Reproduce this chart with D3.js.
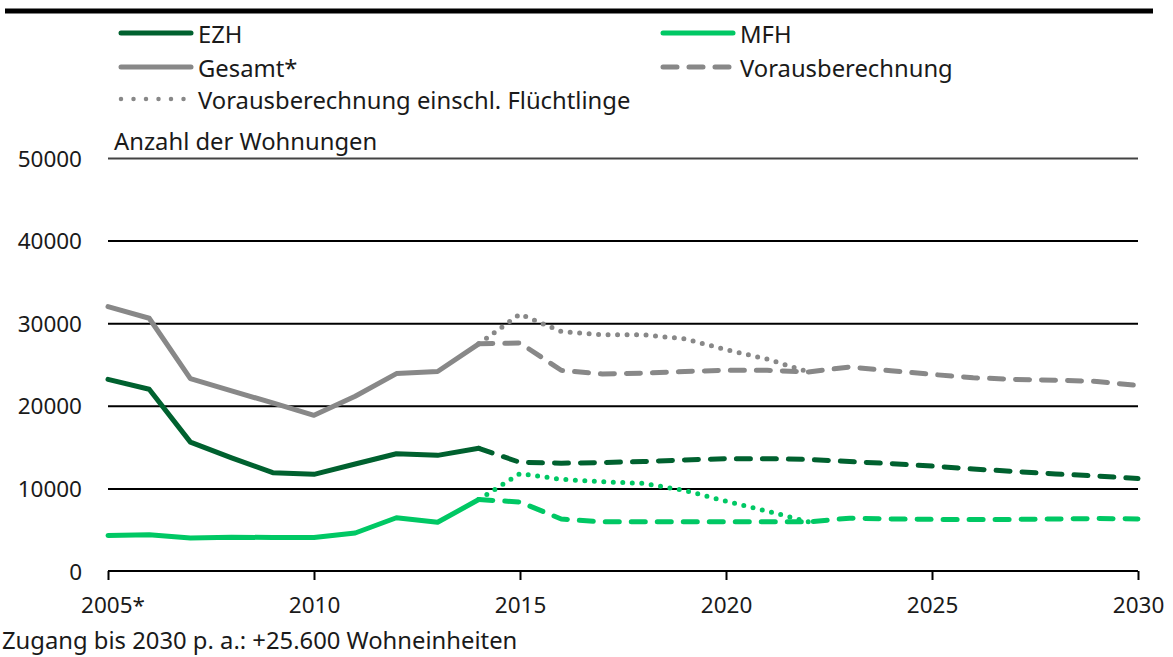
<!DOCTYPE html>
<html>
<head>
<meta charset="utf-8">
<title>Wohnungsbedarf</title>
<script src="https://cdn.jsdelivr.net/npm/d3@7"></script>
<style>
  body { margin: 0; background: #fff; }
  text { font-family: 'Noto Sans', sans-serif; font-size: 23.8px; fill: #1a1a1a; }
</style>
</head>
<body>
<svg id="svg" width="1173" height="657"></svg>
<script>
// observed years
var years = [2005, 2006, 2007, 2008, 2009, 2010, 2011, 2012, 2013, 2014];
var ezh    = [23200, 22000, 15600, 13700, 11900, 11700, 12950, 14200, 14000, 14850];
var mfh    = [4300, 4400, 4000, 4100, 4050, 4050, 4600, 6450, 5900, 8650];
var gesamt = [32000, 30600, 23300, 21800, 20350, 18850, 21150, 23900, 24150, 27500];

// projection (Vorausberechnung)
var projYears = [2014, 2015, 2016, 2017, 2018, 2019, 2020, 2021, 2022, 2023, 2024, 2025, 2026, 2027, 2028, 2029, 2030];
var ezhProj    = [14850, 13150, 13050, 13130, 13250, 13450, 13600, 13600, 13500, 13250, 13000, 12700, 12350, 12050, 11750, 11500, 11200];
var mfhProj    = [8650, 8350, 6300, 5950, 5950, 5950, 5950, 5950, 5950, 6400, 6300, 6250, 6250, 6250, 6300, 6350, 6300];
var gesamtProj = [27500, 27600, 24300, 23850, 23950, 24150, 24300, 24300, 24100, 24700, 24250, 23800, 23400, 23200, 23100, 22950, 22450];

// projection incl. refugees
var fluYears = [2014, 2015, 2016, 2017, 2018, 2019, 2020, 2021, 2022];
var mfhFlu    = [8650, 11800, 11100, 10800, 10600, 9750, 8450, 7250, 5950];
var gesamtFlu = [27500, 31100, 29000, 28600, 28600, 28100, 26800, 25650, 24100];

var yTicks = [0, 10000, 20000, 30000, 40000, 50000];
var xTicks = [2005, 2010, 2015, 2020, 2025, 2030];

var dark = '#00612f', light = '#00c864', grey = '#888888';

var svg = d3.select('#svg');
var x = d3.scaleLinear().domain([2005, 2030]).range([108, 1138]);
var y = d3.scaleLinear().domain([0, 50000]).range([571, 158]);

// top rule
svg.append('line').attr('x1', 5).attr('x2', 1153).attr('y1', 11).attr('y2', 11)
    .attr('stroke', '#000').attr('stroke-width', 5);

// grid
var grid = svg.append('g')
    .call(d3.axisLeft(y).tickValues(yTicks).tickSize(0).tickFormat(d3.format('d')));
grid.select('.domain').remove();
grid.selectAll('.tick text').attr('x', 82).attr('dy', '0.36em').style('font-size', '22.5px')
    .attr('font-family', null).attr('fill', '#1a1a1a');
grid.selectAll('.tick').filter(function(d){ return d > 0; }).append('line')
    .attr('x1', 108).attr('x2', 1138)
    .attr('stroke', function(d){ return d === 50000 ? '#444' : '#000'; })
    .attr('stroke-width', 2);

// x axis
var xa = svg.append('g').attr('transform', 'translate(0,571)')
    .call(d3.axisBottom(x).tickValues(xTicks).tickSize(9).tickPadding(17)
        .tickFormat(function(d){ return d === 2005 ? '2005*' : d; }));
xa.select('.domain').attr('stroke', '#000').attr('stroke-width', 2).attr('d', 'M108,0H1138');
xa.selectAll('.tick line').attr('stroke', '#000').attr('stroke-width', 2);
xa.selectAll('.tick text').style('font-size', '22.5px').attr('font-family', null).attr('fill', '#1a1a1a')
    .attr('dx', function(d){ return d === 2005 ? '0.2em' : 0; });

svg.append('text').attr('x', 114).attr('y', 150).text('Anzahl der Wohnungen');
svg.append('text').attr('x', 2).attr('y', 649).text('Zugang bis 2030 p. a.: +25.600 Wohneinheiten');

// lines
var line = d3.line()
    .x(function(d){ return x(d[0]); }).y(function(d){ return y(d[1]); });
function draw(xs, vs, color, style){
    var p = svg.append('path').datum(d3.zip(xs, vs))
        .attr('d', line).attr('fill', 'none').attr('stroke', color)
        .attr('stroke-width', 5).attr('stroke-linecap', 'round').attr('stroke-linejoin', 'round');
    if (style === 'dash') p.attr('stroke-dasharray', '14,12');
    if (style === 'dot') p.attr('stroke-dasharray', '0,9.5');
}
draw(fluYears, gesamtFlu, grey, 'dot');
draw(fluYears, mfhFlu, light, 'dot');
draw(projYears, gesamtProj, grey, 'dash');
draw(projYears, ezhProj, dark, 'dash');
draw(projYears, mfhProj, light, 'dash');
draw(years, gesamt, grey);
draw(years, ezh, dark);
draw(years, mfh, light);

// legend
var legend = [
    {label: 'EZH', color: dark, x: 121, y: 33},
    {label: 'MFH', color: light, x: 663, y: 33},
    {label: 'Gesamt*', color: grey, x: 121, y: 67},
    {label: 'Vorausberechnung', color: grey, x: 663, y: 67, style: 'dash'},
    {label: 'Vorausberechnung einschl. Flüchtlinge', color: grey, x: 121, y: 99, style: 'dot'}
];
legend.forEach(function(l){
    var ln = svg.append('line').attr('x1', l.x).attr('x2', l.x + 70).attr('y1', l.y).attr('y2', l.y)
        .attr('stroke', l.color).attr('stroke-width', 5).attr('stroke-linecap', 'round');
    if (l.style === 'dash') ln.attr('stroke-dasharray', '14,12');
    if (l.style === 'dot') ln.attr('stroke-width', 4.5).attr('stroke-dasharray', '0,12.5');
    svg.append('text').attr('x', l.x + 77).attr('y', l.y + 10).text(l.label);
});
</script>
</body>
</html>
